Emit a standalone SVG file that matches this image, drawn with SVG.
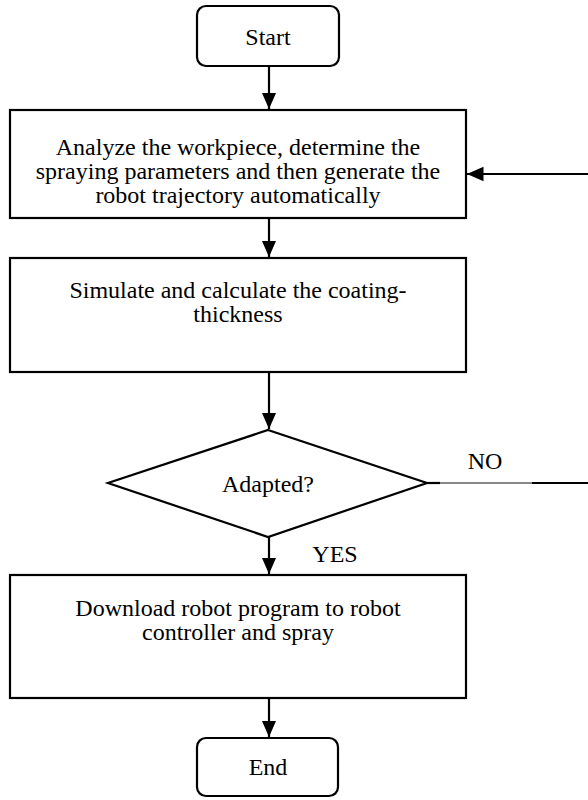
<svg xmlns="http://www.w3.org/2000/svg" width="588" height="800" viewBox="0 0 588 800">
<style>
.n{fill:#fff;stroke:#000;stroke-width:2.2}
.t{font-family:"Liberation Serif","Times New Roman","DejaVu Serif",serif;font-size:24px;fill:#000;text-anchor:middle}
.c{stroke:#000;stroke-width:2.2;fill:none}
</style>
<defs>
<marker id="a" viewBox="0 0 16 16" refX="16" refY="8" markerWidth="7.5" markerHeight="7.5" orient="auto" markerUnits="strokeWidth">
<path d="M0,1L16,8L0,15z" fill="#000"/>
</marker>
</defs>
<rect width="588" height="800" fill="#fff"/>
<g id="connectors">
<line class="c" x1="269" y1="66" x2="269" y2="109" marker-end="url(#a)"/>
<line class="c" x1="269" y1="218" x2="269" y2="257" marker-end="url(#a)"/>
<line class="c" x1="269" y1="372" x2="269" y2="429" marker-end="url(#a)"/>
<line class="c" x1="269" y1="537" x2="269" y2="574" marker-end="url(#a)"/>
<line class="c" x1="269" y1="698" x2="269" y2="737" marker-end="url(#a)"/>
<line class="c" x1="588" y1="174" x2="467" y2="174" marker-end="url(#a)"/>
<line class="c" x1="427" y1="483" x2="440" y2="483"/>
<line x1="440" y1="483" x2="532" y2="483" stroke="#888" stroke-width="2"/>
<line class="c" x1="532" y1="483" x2="588" y2="483"/>
<text class="t" x="485" y="469">NO</text>
<text class="t" x="335" y="562">YES</text>
</g>
<g id="start">
<rect class="n" x="197" y="6" width="142" height="60" rx="9"/>
<text class="t" x="268" y="45">Start</text>
</g>
<g id="analyze">
<rect class="n" x="10" y="110" width="456" height="108"/>
<text class="t" x="238" y="155">Analyze the workpiece, determine the</text>
<text class="t" x="238" y="179">spraying parameters and then generate the</text>
<text class="t" x="238" y="203">robot trajectory automatically</text>
</g>
<g id="simulate">
<rect class="n" x="10" y="258" width="456" height="114"/>
<text class="t" x="238" y="298">Simulate and calculate the coating-</text>
<text class="t" x="238" y="322">thickness</text>
</g>
<g id="adapted">
<polygon class="n" points="268,430 427,483 268,537 108,483"/>
<text class="t" x="268" y="492">Adapted?</text>
</g>
<g id="download">
<rect class="n" x="10" y="575" width="456" height="123"/>
<text class="t" x="238" y="616">Download robot program to robot</text>
<text class="t" x="238" y="640">controller and spray</text>
</g>
<g id="end">
<rect class="n" x="197" y="738" width="141" height="58" rx="9"/>
<text class="t" x="268" y="775">End</text>
</g>
</svg>
